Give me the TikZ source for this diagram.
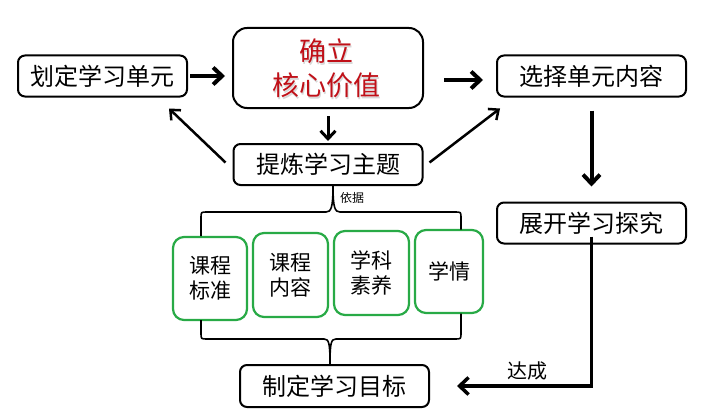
\documentclass[tikz,border=0pt]{standalone}
\usepackage{fontspec}
\setmainfont{Noto Sans CJK SC}
\usetikzlibrary{arrows.meta,calc}
\definecolor{boxgreen}{RGB}{40,170,70}
\definecolor{darkred}{RGB}{192,16,24}
\tikzset{
  box/.style={draw, line width=2pt, rounded corners=7pt, inner sep=0pt,
    minimum width=189pt, minimum height=41pt, font=\fontsize{24}{26}\selectfont},
  bigbox/.style={draw, line width=2pt, rounded corners=14pt, inner sep=0pt,
    minimum width=190pt, minimum height=80pt},
  redtxt/.style={text=darkred, align=center, font=\fontsize{27}{34}\selectfont},
  redshadow/.style={text=black!30, opacity=0.5, align=center, font=\fontsize{27}{34}\selectfont},
  gbox/.style={draw=boxgreen, line width=2.2pt, rounded corners=11pt, inner sep=0pt,
    align=center, font=\fontsize{21}{25}\selectfont},
  arr/.style={line width=4pt, -{Straight Barb[length=9pt,width=17pt]}},
  arrmid/.style={line width=3pt, -{Straight Barb[length=8pt,width=15pt]}},
  arrthin/.style={line width=2.5pt, -{Straight Barb[length=8pt,width=14pt]}},
  brace/.style={line width=1.6pt},
}
\begin{document}
\begin{tikzpicture}[x=1pt,y=-1pt]
\useasboundingbox (0,0) rectangle (720,420);
\fill[white] (0,0) rectangle (720,420);

\node[box, minimum width=169pt] (hd) at (102.5,76) {划定学习单元};
\node[redshadow] (qrs) at (327.5,70) {确立\\核心价值};
\node[bigbox] (qr) at (328,68) {};
\node[redtxt] (qrt) at (326,68) {确立\\核心价值};
\node[box] (xz) at (591.5,76) {选择单元内容};
\node[box] (tl) at (328,164.5) {提炼学习主题};
\node[box] (zk) at (591.5,223) {展开学习探究};
\node[box, minimum height=42pt] (zd) at (334.5,386) {制定学习目标};

\node[gbox, minimum width=74pt, minimum height=83pt] (g1) at (210,278.5) {课程\\标准};
\node[gbox, minimum width=75pt, minimum height=84pt] (g2) at (290.5,275) {课程\\内容};
\node[gbox, minimum width=75pt, minimum height=84pt] (g3) at (371.5,273) {学科\\素养};
\node[gbox, minimum width=68pt, minimum height=83pt] (g4) at (449,271.5) {学情};

% arrows
\draw[arr, shorten <=2pt, shorten >=7pt] (hd.east) -- (hd.east -| qr.west);
\draw[arr, shorten <=20pt, shorten >=13pt] ($(qr.east |- xz.west)+(0,4)$) -- ($(xz.west)+(0,4)$);
\draw[arrmid, shorten <=7pt, shorten >=2pt] (qr.south) -- (tl.north);
\draw[arrthin] ($(tl.west)+(-7,-2)$) -- ($(hd.south east)+(-19,11)$);
\draw[arrthin] ($(tl.east)+(6,-2)$) -- ($(xz.south west)+(4,11)$);
\draw[arr, shorten <=13pt, shorten >=15pt] (xz.south) -- (zk.north);
\draw[line width=3.5pt, -{Straight Barb[length=9pt,width=17pt]}, shorten >=27pt]
  ([yshift=8pt]zk.south) -- (zk.south |- zd.east) -- (zd.east);
\node[font=\fontsize{20}{22}\selectfont] (dc) at (527,371) {达成};

% braces
\draw[brace] (201,236) -- (201,218) .. controls (201,212) .. (207,212) -- (326,212)
  .. controls (331,212) and (333,208) .. (333,186);
\draw[brace] (461,229.5) -- (461,218) .. controls (461,212) .. (455,212) -- (340,212)
  .. controls (335,212) and (333,208) .. (333,186);
\node[font=\fontsize{12}{14}\selectfont] (yj) at (352,198) {依据};

\draw[brace] (201,320) -- (201,333) .. controls (201,339) .. (207,339) -- (324,339)
  .. controls (329,339) and (330,343) .. (330,365);
\draw[brace] (461,313.5) -- (461,333) .. controls (461,339) .. (455,339) -- (336,339)
  .. controls (331,339) and (330,343) .. (330,365);
\end{tikzpicture}
\end{document}
